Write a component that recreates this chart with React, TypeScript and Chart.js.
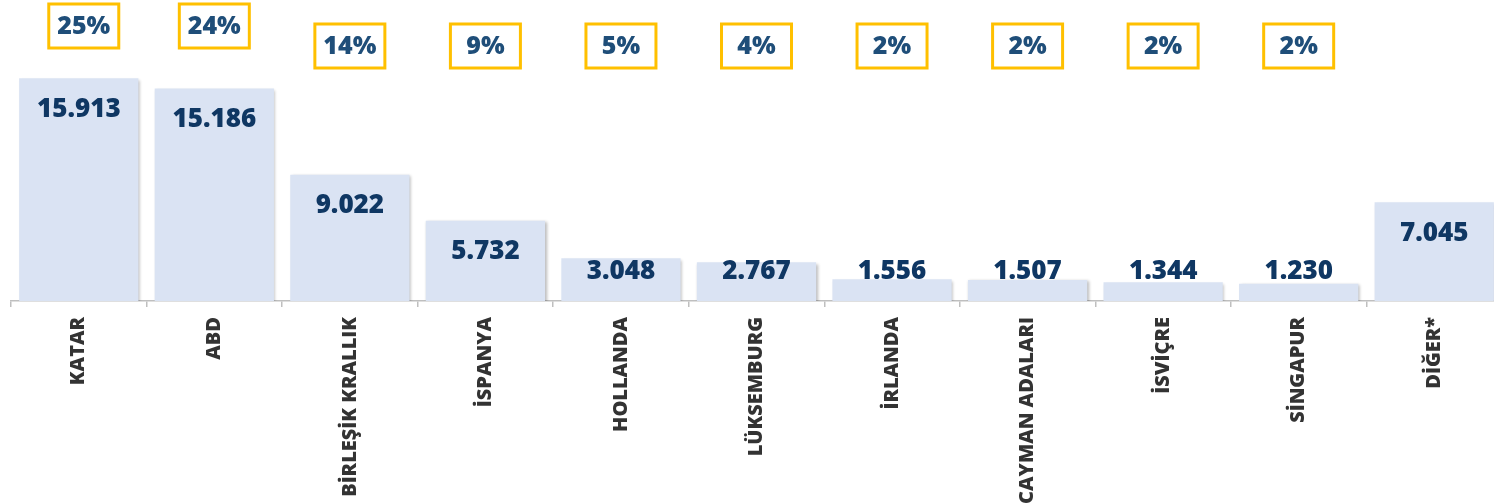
import React, { useEffect, useRef } from "react";
import { Chart, registerables } from "chart.js";

Chart.register(...registerables);

const categories = [
  "KATAR",
  "ABD",
  "BİRLEŞİK KRALLIK",
  "İSPANYA",
  "HOLLANDA",
  "LÜKSEMBURG",
  "İRLANDA",
  "CAYMAN ADALARI",
  "İSVİÇRE",
  "SİNGAPUR",
  "DİĞER*",
];
const values = [15913, 15186, 9022, 5732, 3048, 2767, 1556, 1507, 1344, 1230, 7045];
const valueLabels = ["15.913", "15.186", "9.022", "5.732", "3.048", "2.767", "1.556", "1.507", "1.344", "1.230", "7.045"];
const shares = ["25%", "24%", "14%", "9%", "5%", "4%", "2%", "2%", "2%", "2%", ""];

const FONT = "'Open Sans', 'Noto Sans', sans-serif";

const shadowPlugin = {
  id: "barShadow",
  beforeDatasetDraw(chart: any) {
    const ctx = chart.ctx;
    ctx.save();
    ctx.shadowColor = "rgba(0,0,0,0.28)";
    ctx.shadowBlur = 3;
    ctx.shadowOffsetX = 1.5;
    ctx.shadowOffsetY = 1.5;
  },
  afterDatasetDraw(chart: any) {
    chart.ctx.restore();
  },
};

const labelPlugin = {
  id: "labelsAndBoxes",
  afterDatasetsDraw(chart: any) {
    const ctx = chart.ctx;
    const meta = chart.getDatasetMeta(0);
    const bottom = chart.chartArea.bottom;
    ctx.save();
    meta.data.forEach((bar: any, i: number) => {
      const cy = Math.min(bar.y + 31, bottom - 29);
      ctx.font = `800 26px ${FONT}`;
      ctx.fillStyle = "#0F3763";
      ctx.textAlign = "center";
      ctx.textBaseline = "middle";
      ctx.fillText(valueLabels[i], bar.x, cy);
      if (shares[i]) {
        const w = 70;
        const h = 44;
        const top = values[i] > 12000 ? 4 : 24;
        const cx = i === 0 ? bar.x + 5 : bar.x;
        ctx.fillStyle = "#FFFFFF";
        ctx.fillRect(cx - w / 2, top, w, h);
        ctx.strokeStyle = "#FFC000";
        ctx.lineWidth = 3;
        ctx.strokeRect(cx - w / 2, top, w, h);
        ctx.fillStyle = "#1F4E79";
        ctx.font = `800 25px ${FONT}`;
        ctx.fillText(shares[i], cx, top + h / 2 + 1);
      }
    });
    ctx.restore();
  },
};

export default function App() {
  const ref = useRef<HTMLCanvasElement | null>(null);
  useEffect(() => {
    if (!ref.current) return;
    const chart = new Chart(ref.current, {
      type: "bar",
      data: {
        labels: categories,
        datasets: [
          {
            data: values,
            backgroundColor: "#DAE3F3",
            borderWidth: 0,
            barPercentage: 0.88,
            categoryPercentage: 1,
          },
        ],
      },
      options: {
        responsive: false,
        animation: false,
        events: [],
        layout: { padding: { left: 11, right: 0, top: 21, bottom: 0 } },
        plugins: { legend: { display: false }, tooltip: { enabled: false } },
        scales: {
          x: {
            offset: true,
            afterFit(scale: any) {
              scale.height = 203;
            },
            border: { display: true, color: "#BFBFBF", width: 1.5 },
            grid: {
              offset: true,
              drawOnChartArea: false,
              drawTicks: true,
              tickLength: 6,
              color: "#BFBFBF",
              lineWidth: 1.5,
            },
            ticks: {
              minRotation: 90,
              maxRotation: 90,
              autoSkip: false,
              padding: 10,
              color: "#333333",
              font: { family: FONT, size: 20, weight: "800" },
            },
          },
          y: { display: false, min: 0, max: 20000 },
        },
      },
      plugins: [shadowPlugin, labelPlugin],
    });
    return () => chart.destroy();
  }, []);
  return (
    <div style={{ position: "fixed", left: 0, top: 0, width: 1494, height: 504, overflow: "hidden", background: "#fff" }}>
      <canvas ref={ref} width={1502} height={504} style={{ display: "block" }} />
    </div>
  );
}
